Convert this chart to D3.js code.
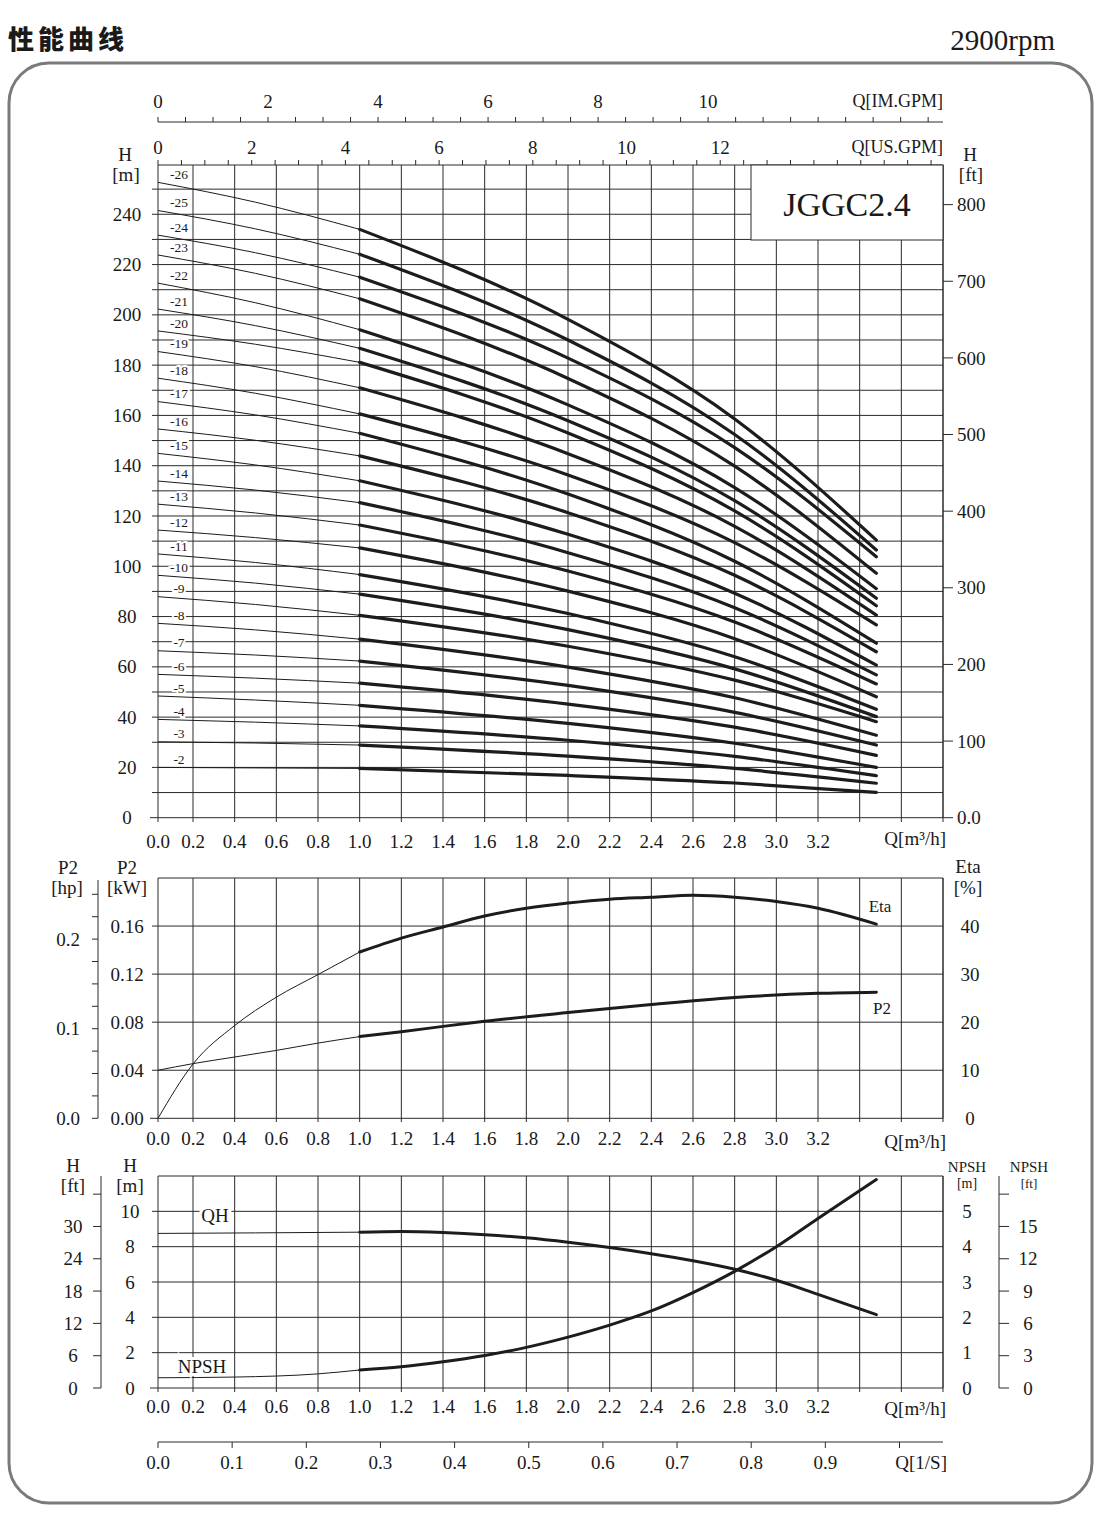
<!DOCTYPE html>
<html><head><meta charset="utf-8">
<script src="https://cdn.jsdelivr.net/npm/d3@7/dist/d3.min.js"></script>
<style>
body{margin:0;background:#fff;}
svg text{font-family:"Liberation Serif","Times New Roman",serif;fill:#1a1a1a;}
</style></head><body>
<svg id="chart" width="1100" height="1524"></svg>
<script>
// ================= DATA =================
const stages   = [26,25,24,23,22,21,20,19,18,17,16,15,14,13,12,11,10,9,8,7,6,5,4,3,2];
const curveQ   = [0, 0.5, 1.0, 2.0, 2.8, 3.48];
const headQ0   = [252.7,241.5,231.7,223.8,212.6,202.3,193.6,185.4,174.8,165.5,154.6,144.9,133.9,124.7,114.4,104.9,96.4,87.9,77.3,66.4,57.0,48.4,39.1,30.2,20.0];
const headQ05  = [244.8,234.2,224.7,216.5,204.8,195.7,188.3,179.4,168.8,160.2,150.1,140.3,130.3,121.2,111.4,101.5,93.3,84.8,74.7,64.7,55.5,46.8,38.0,29.7,19.8];
const headQ10  = [234.0,224.1,215.0,206.4,194.1,186.7,181.1,171.0,160.6,152.9,143.9,134.0,125.3,116.4,107.3,96.7,88.9,80.5,71.0,62.3,53.5,44.7,36.5,28.9,19.6];
const headQ20  = [198.2,190.0,182.8,174.7,164.2,157.9,153.0,144.8,136.3,128.7,121.3,112.7,105.4,98.1,90.1,81.2,74.8,68.2,59.9,52.6,45.2,37.5,30.8,24.5,16.8];
const headQ28  = [158.6,152.4,147.2,139.8,131.3,126.1,122.0,115.9,109.4,102.0,96.4,89.3,83.5,77.8,71.2,64.0,59.2,54.7,47.7,41.9,36.0,29.6,24.4,19.6,13.8];
const headEnd  = [110.4,106.5,103.8,97.2,91.1,87.3,84.3,80.6,76.7,69.4,66.0,60.7,56.8,53.2,48.1,43.1,40.2,38.2,32.8,28.9,24.8,20.0,16.7,13.7,10.1];

const etaQ   = [0,0.2,0.4,0.6,0.8,1.0,1.2,1.4,1.6,1.8,2.0,2.2,2.4,2.6,2.8,3.0,3.2,3.48];
const etaVal = [0,11.3,19.3,25.2,29.9,34.6,37.5,39.8,42.1,43.7,44.8,45.6,46.0,46.4,46.0,45.1,43.7,40.4];
const p2Q    = [0,0.2,0.4,0.6,0.8,1.0,1.2,1.4,1.6,2.0,2.4,2.8,3.2,3.48];
const p2Val  = [0.040,0.0455,0.051,0.0565,0.0626,0.068,0.072,0.0765,0.0807,0.088,0.0948,0.1006,0.104,0.105];
const qhQ    = [0,0.5,1.0,1.2,1.4,1.6,1.8,2.0,2.2,2.4,2.6,2.8,3.0,3.2,3.48];
const qhVal  = [8.75,8.78,8.82,8.86,8.8,8.68,8.5,8.25,7.95,7.6,7.2,6.72,6.1,5.3,4.15];
const npshQ  = [0,0.4,0.8,1.0,1.2,1.4,1.6,1.8,2.0,2.2,2.4,2.6,2.8,3.0,3.2,3.48];
const npshVal= [0.29,0.31,0.4,0.51,0.6,0.74,0.92,1.15,1.44,1.78,2.18,2.7,3.3,4.0,4.8,5.9];

const qTickLabels   = ["0.0","0.2","0.4","0.6","0.8","1.0","1.2","1.4","1.6","1.8","2.0","2.2","2.4","2.6","2.8","3.0","3.2"];
const imGpmLabels   = [0,2,4,6,8,10];
const usGpmLabels   = [0,2,4,6,8,10,12];
const hMTicks       = [0,20,40,60,80,100,120,140,160,180,200,220,240];
const hFtTicks      = [0,100,200,300,400,500,600,700,800];
const kwTicks       = ["0.00","0.04","0.08","0.12","0.16"];
const hpLabels      = ["0.0","0.1","0.2"];
const etaTicks      = [0,10,20,30,40];
const bHmTicks      = [0,2,4,6,8,10];
const bHftTicks     = [0,6,12,18,24,30];
const npshMTicks    = [0,1,2,3,4,5];
const npshFtTicks   = [0,3,6,9,12,15];
const lsTickLabels  = ["0.0","0.1","0.2","0.3","0.4","0.5","0.6","0.7","0.8","0.9"];

// ================= DRAW =================
const svg = d3.select("#chart");
const INK = "#1c1c1c";
const GRID = "#2a2a2a";
function ln(g,x1,y1,x2,y2,w,c){g.append("line").attr("x1",x1).attr("y1",y1).attr("x2",x2).attr("y2",y2).attr("stroke",c||GRID).attr("stroke-width",w||1);}
function tx(g,x,y,s,size,anchor,halo){
  const t=g.append("text").attr("x",x).attr("y",y).attr("dy","0.35em").attr("text-anchor",anchor||"middle").style("font-size",size+"px").text(s);
  if(halo){t.attr("stroke","#fff").attr("stroke-width",halo).attr("paint-order","stroke");}
  return t;
}
const fmt = d3.format(".2f");

// frame and header
svg.append("rect").attr("x",9).attr("y",63).attr("width",1083).attr("height",1440).attr("rx",40)
  .attr("fill","none").attr("stroke","#7a7a7a").attr("stroke-width",3);
svg.append("text").attr("x",8).attr("y",49).text("性能曲线")
  .style("font-family","'Noto Sans CJK SC'").style("font-weight",900).style("font-size","26px").style("letter-spacing","4px");
svg.append("text").attr("x",1055).attr("y",50).attr("text-anchor","end").style("font-size","29px").text("2900rpm");

// shared x scale (m3/h)
const x = d3.scaleLinear().domain([0,0.2,3.8]).range([158,193,943]);
const gridQ = d3.range(0,3.81,0.2);
const XL=158, XR=943;

// ---------- MAIN PANEL ----------
const gM = svg.append("g");
const yM = d3.scaleLinear().domain([0,259.6]).range([817.7,165]);
const yMft = d3.scaleLinear().domain([0,259.6*3.28084]).range([817.7,165]);
d3.range(10,255,10).forEach(v=>ln(gM,152,yM(v),XR,yM(v)));
gridQ.forEach(q=>ln(gM,x(q),165,x(q),822));
ln(gM,XR,165,XR,818); ln(gM,XL,165,XR,165); ln(gM,150,yM(0),XR,yM(0));

// top axes
const xIM = d3.scaleLinear().domain([0,14.27]).range([XL,XR]);
const xUS = d3.scaleLinear().domain([0,16.755]).range([XL,XR]);
ln(gM,XL,122,XR,122);
d3.range(0,14.01,0.5).forEach(v=>ln(gM,xIM(v),117,xIM(v),122));
imGpmLabels.forEach(v=>tx(gM,xIM(v),101,v,19));
tx(gM,XR,101,"Q[IM.GPM]",18,"end");
d3.range(0,16.51,0.5).forEach(v=>ln(gM,xUS(v),160,xUS(v),165));
usGpmLabels.forEach(v=>tx(gM,xUS(v),147,v,19));
tx(gM,XR,147,"Q[US.GPM]",18,"end");

// left / right axes
hMTicks.forEach(v=>tx(gM,127,yM(v),v,19));
tx(gM,125,154,"H",19); tx(gM,126,174,"[m]",19);
hFtTicks.forEach(v=>{ln(gM,XR,yMft(v),XR+10,yMft(v)); tx(gM,957,yMft(v),v===0?"0.0":v,19,"start");});
tx(gM,970,154,"H",19); tx(gM,971,174,"[ft]",19);
// x labels
qTickLabels.forEach(s=>tx(gM,x(+s),841,s,19));
tx(gM,946,838,"Q[m³/h]",19,"end");

// curves
const lineM = d3.line().x(d=>x(d[0])).y(d=>yM(d[1])).curve(d3.curveMonotoneX);
stages.forEach((s,i)=>{
  const pts = curveQ.map((q,k)=>[q,[headQ0[i],headQ05[i],headQ10[i],headQ20[i],headQ28[i],headEnd[i]][k]]);
  gM.append("path").attr("d",lineM(pts.slice(0,3))).attr("fill","none").attr("stroke",INK).attr("stroke-width",1);
  gM.append("path").attr("d",lineM(pts.slice(2))).attr("fill","none").attr("stroke",INK).attr("stroke-width",3.2).attr("stroke-linecap","round");
});
stages.forEach((s,i)=>tx(gM,179,yM(headQ0[i])-8,"-"+s,13.5,"middle",4));

// model box
gM.append("rect").attr("x",751).attr("y",165).attr("width",192).attr("height",75).attr("fill","#fff").attr("stroke",GRID).attr("stroke-width",1);
tx(gM,847,204,"JGGC2.4",34);

// ---------- MIDDLE PANEL ----------
const gP = svg.append("g");
const yP = d3.scaleLinear().domain([0,0.2]).range([1118.3,878]);
const yEta = d3.scaleLinear().domain([0,50]).range([1118.3,878]);
const yHp = d3.scaleLinear().domain([0,0.2/0.7457]).range([1118.3,878]);
d3.range(0.04,0.2,0.04).forEach(v=>ln(gP,152,yP(v),XR,yP(v)));
gridQ.forEach(q=>ln(gP,x(q),878,x(q),1122));
ln(gP,XL,878,XR,878); ln(gP,150,yP(0),XR,yP(0)); ln(gP,XR,878,XR,1118.3);
kwTicks.forEach(s=>tx(gP,127,yP(+s),s,19));
tx(gP,127,867,"P2",19); tx(gP,127,887,"[kW]",19);
// hp axis
ln(gP,98,880,98,1118.3);
d3.range(0,0.2501,0.025).forEach(v=>ln(gP,92,yHp(v),98,yHp(v)));
hpLabels.forEach(s=>tx(gP,68,yHp(+s),s,19));
tx(gP,68,867,"P2",19); tx(gP,67,887,"[hp]",19);
// eta axis
etaTicks.forEach(v=>tx(gP,970,yEta(v),v,19));
tx(gP,968,866,"Eta",19); tx(gP,968,887,"[%]",19);
qTickLabels.forEach(s=>tx(gP,x(+s),1138,s,19));
tx(gP,946,1141,"Q[m³/h]",19,"end");
function split(g,qs,vs,ys,w){
  const L=d3.line().x(d=>x(d[0])).y(d=>ys(d[1])).curve(d3.curveMonotoneX);
  const pts=qs.map((q,i)=>[q,vs[i]]);
  g.append("path").attr("d",L(pts.filter(d=>d[0]<=1.0))).attr("fill","none").attr("stroke",INK).attr("stroke-width",1);
  g.append("path").attr("d",L(pts.filter(d=>d[0]>=1.0))).attr("fill","none").attr("stroke",INK).attr("stroke-width",w).attr("stroke-linecap","round");
}
split(gP,etaQ,etaVal,yEta,3);
split(gP,p2Q,p2Val,yP,3);
tx(gP,880,906,"Eta",17);
tx(gP,882,1008,"P2",17);

// ---------- BOTTOM PANEL ----------
const gB = svg.append("g");
const yB = d3.scaleLinear().domain([0,12]).range([1388,1176]);
const yN = d3.scaleLinear().domain([0,6]).range([1388,1176]);
const yBft = d3.scaleLinear().domain([0,12*3.28084]).range([1388,1176]);
const yNft = d3.scaleLinear().domain([0,6*3.28084]).range([1388,1176]);
[2,4,6,8,10].forEach(v=>ln(gB,152,yB(v),XR,yB(v)));
gridQ.forEach(q=>ln(gB,x(q),1176,x(q),1392));
ln(gB,XL,1176,XR,1176); ln(gB,150,yB(0),XR,yB(0)); ln(gB,XR,1176,XR,1388);
bHmTicks.forEach(v=>tx(gB,130,yB(v),v,19));
tx(gB,130,1165,"H",19); tx(gB,130,1185,"[m]",19);
ln(gB,101,1176,101,1388);
d3.range(0,36.1,6).forEach(v=>ln(gB,93,yBft(v),101,yBft(v)));
bHftTicks.forEach(v=>tx(gB,73,yBft(v),v,19));
tx(gB,73,1165,"H",19); tx(gB,73,1185,"[ft]",19);
npshMTicks.forEach(v=>tx(gB,967,yN(v),v,19));
tx(gB,967,1167,"NPSH",15); tx(gB,967,1183,"[m]",14);
ln(gB,999,1176,999,1388);
d3.range(0,18.1,3).forEach(v=>ln(gB,999,yNft(v),1009,yNft(v)));
npshFtTicks.forEach(v=>tx(gB,1028,yNft(v),v,19));
tx(gB,1029,1167,"NPSH",15); tx(gB,1029,1183,"[ft]",13);
qTickLabels.forEach(s=>tx(gB,x(+s),1406,s,19));
tx(gB,946,1408,"Q[m³/h]",19,"end");
split(gB,qhQ,qhVal,yB,3);
split(gB,npshQ,npshVal,yN,3);
tx(gB,215,1215,"QH",19,"middle",6);
tx(gB,202,1366,"NPSH",19,"middle",6);

// L/s axis
const xLs = d3.scaleLinear().domain([0,1]).range([158,899.5]);
ln(gB,XL,1442,XR,1442);
d3.range(0,1.01,0.1).forEach(v=>ln(gB,xLs(v),1442,xLs(v),1448));
lsTickLabels.forEach(s=>tx(gB,xLs(+s),1462,s,19));
tx(gB,947,1462,"Q[1/S]",19,"end");
</script>
</body></html>
